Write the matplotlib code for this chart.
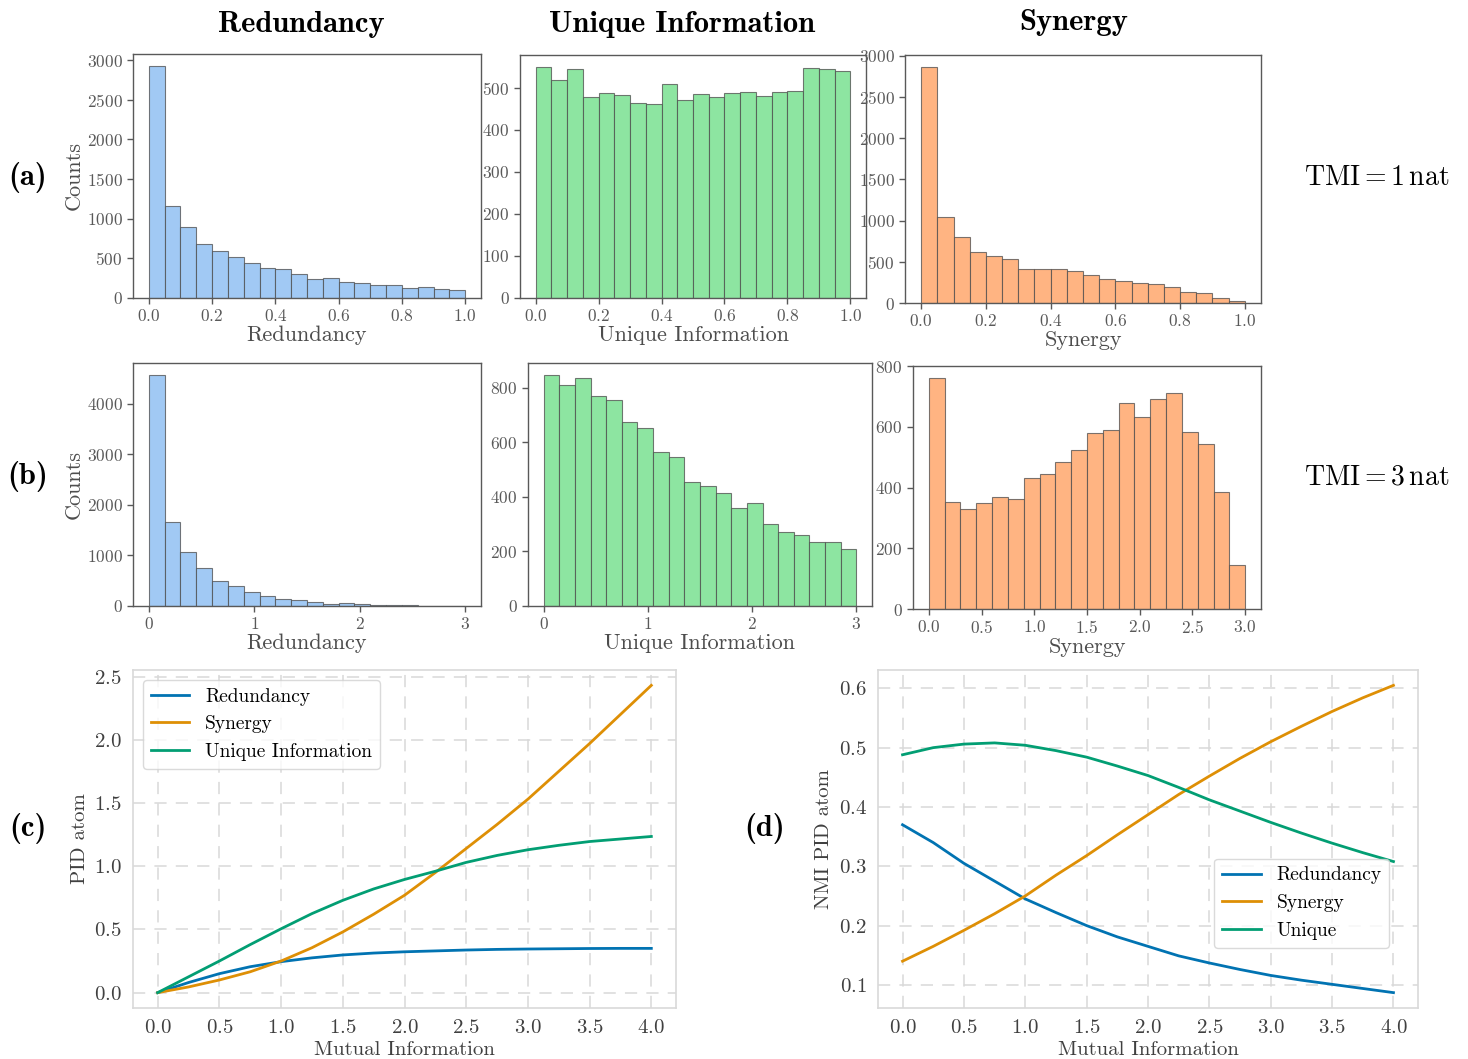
import matplotlib
matplotlib.use("Agg")
import matplotlib.pyplot as plt
import numpy as np

plt.rcParams['font.family'] = 'cmr10'
plt.rcParams['mathtext.fontset'] = 'cm'
plt.rcParams['axes.formatter.use_mathtext'] = True

# histogram counts, 20 bins each
red_a = [2930, 1165, 900, 675, 595, 520, 445, 380, 368, 300,
         240, 257, 203, 190, 170, 160, 130, 135, 110, 100]
uni_a = [551, 518, 545, 478, 488, 483, 464, 462, 509, 472,
         485, 478, 487, 490, 480, 490, 492, 547, 545, 541]
syn_a = [2867, 1043, 801, 619, 574, 534, 416, 416, 412, 384,
         340, 291, 267, 243, 230, 194, 137, 121, 65, 20]
red_b = [4572, 1651, 1059, 750, 493, 395, 270, 197, 145, 125,
         72, 46, 53, 33, 26, 13, 13, 7, 3, 2]
uni_b = [848, 811, 834, 771, 756, 675, 654, 565, 547, 453,
         440, 414, 359, 377, 300, 270, 260, 234, 235, 208]
syn_b = [762, 353, 330, 351, 368, 364, 433, 445, 486, 523,
         579, 591, 678, 633, 693, 711, 584, 543, 387, 144]
range_a = (0.0, 1.0)
range_b = (0.0, 3.0)

# PID atoms vs mutual information
mi = [0.0, 0.25, 0.5, 0.75, 1.0, 1.25, 1.5, 1.75, 2.0,
      2.25, 2.5, 2.75, 3.0, 3.25, 3.5, 3.75, 4.0]
pid_red = [0.0, 0.08, 0.15, 0.205, 0.245, 0.275, 0.298, 0.313, 0.323,
           0.330, 0.337, 0.342, 0.345, 0.347, 0.349, 0.350, 0.350]
pid_syn = [0.0, 0.045, 0.10, 0.165, 0.25, 0.355, 0.48, 0.62, 0.77,
           0.95, 1.14, 1.33, 1.53, 1.75, 1.97, 2.20, 2.43]
pid_uni = [0.0, 0.125, 0.25, 0.38, 0.505, 0.625, 0.73, 0.82, 0.895,
           0.96, 1.03, 1.085, 1.13, 1.165, 1.195, 1.215, 1.235]
nmi_red = [0.370, 0.340, 0.305, 0.275, 0.245, 0.222, 0.200, 0.181, 0.165,
           0.149, 0.137, 0.126, 0.116, 0.108, 0.101, 0.094, 0.087]
nmi_syn = [0.140, 0.165, 0.192, 0.220, 0.250, 0.285, 0.318, 0.353, 0.387,
           0.421, 0.452, 0.482, 0.510, 0.536, 0.561, 0.584, 0.605]
nmi_uni = [0.488, 0.500, 0.506, 0.508, 0.504, 0.495, 0.484, 0.469, 0.453,
           0.433, 0.412, 0.393, 0.374, 0.356, 0.339, 0.323, 0.308]

W, H = 1468, 1059
fig = plt.figure(figsize=(W / 100, H / 100), dpi=100)


def px_axes(x0, y0, x1, y1):
    return fig.add_axes([x0 / W, 1 - y1 / H, (x1 - x0) / W, (y1 - y0) / H])


def px_text(x, y, s, **kw):
    fig.text(x / W, 1 - y / H, s, ha='center', va='center', **kw)


def draw_hist(ax, counts, rng, color, xlabel, ylabel=None):
    edges = np.linspace(rng[0], rng[1], len(counts) + 1)
    ax.hist(edges[:-1], bins=edges, weights=counts, color=color,
            edgecolor=(0.3, 0.3, 0.3, 0.75), linewidth=0.8)
    for s in ax.spines.values():
        s.set_color('0.35')
        s.set_linewidth(1.0)
    ax.tick_params(direction='out', length=4, width=1, colors='0.35',
                   labelsize=12.5)
    ax.set_xlabel(xlabel, fontsize=16, color='0.3', labelpad=1)
    if ylabel:
        ax.set_ylabel(ylabel, fontsize=16, color='0.3', labelpad=2)


blue, orange, green = '#a1c9f4', '#ffb482', '#8de5a1'

ax = px_axes(133, 54, 481, 298)
draw_hist(ax, red_a, range_a, blue, 'Redundancy', 'Counts')
ax = px_axes(520, 55, 866, 298)
draw_hist(ax, uni_a, range_a, green, 'Unique Information')
ax = px_axes(905, 55, 1261, 303)
draw_hist(ax, syn_a, range_a, orange, 'Synergy')

ax = px_axes(133, 363, 481, 606)
draw_hist(ax, red_b, range_b, blue, 'Redundancy', 'Counts')
ax.set_xticks([0, 1, 2, 3])
ax = px_axes(528, 363, 872, 606)
draw_hist(ax, uni_b, range_b, green, 'Unique Information')
ax.set_xticks([0, 1, 2, 3])
ax = px_axes(913, 366, 1261, 609)
draw_hist(ax, syn_b, range_b, orange, 'Synergy')
ax.set_xticks([0.0, 0.5, 1.0, 1.5, 2.0, 2.5, 3.0])
ax.set_ylim(0, 801)

line_cols = ['#0173b2', '#de8f05', '#029e73']


def style_lines(ax):
    ax.grid(True, linestyle=(0, (8, 6)), color='0.85', linewidth=1.1)
    ax.set_axisbelow(True)
    for s in ax.spines.values():
        s.set_color('0.85')
        s.set_linewidth(1.2)
    ax.tick_params(length=0, labelsize=15, colors='0.25', pad=8)


ax = px_axes(133, 670, 676, 1008)
ax.plot(mi, pid_red, color=line_cols[0], lw=2, label='Redundancy')
ax.plot(mi, pid_syn, color=line_cols[1], lw=2, label='Synergy')
ax.plot(mi, pid_uni, color=line_cols[2], lw=2, label='Unique Information')
style_lines(ax)
ax.set_xticks([0.0, 0.5, 1.0, 1.5, 2.0, 2.5, 3.0, 3.5, 4.0])
ax.set_yticks([0.0, 0.5, 1.0, 1.5, 2.0, 2.5])
ax.set_xlabel('Mutual Information', fontsize=15, color='0.25', labelpad=3)
ax.set_ylabel('PID atom', fontsize=15, color='0.25')
leg = ax.legend(loc='upper left', fontsize=14, frameon=True)
leg.get_frame().set_edgecolor('0.82')

ax = px_axes(878, 670, 1418, 1008)
ax.plot(mi, nmi_red, color=line_cols[0], lw=2, label='Redundancy')
ax.plot(mi, nmi_syn, color=line_cols[1], lw=2, label='Synergy')
ax.plot(mi, nmi_uni, color=line_cols[2], lw=2, label='Unique')
style_lines(ax)
ax.set_xticks([0.0, 0.5, 1.0, 1.5, 2.0, 2.5, 3.0, 3.5, 4.0])
ax.set_yticks([0.1, 0.2, 0.3, 0.4, 0.5, 0.6])
ax.set_xlabel('Mutual Information', fontsize=15, color='0.25', labelpad=3)
ax.set_ylabel('NMI PID atom', fontsize=15, color='0.25')
leg = ax.legend(loc='lower right', bbox_to_anchor=(0.965, 0.15),
                fontsize=14, frameon=True)
leg.get_frame().set_edgecolor('0.82')

# column titles, row labels and annotations
px_text(301, 25, 'Redundancy', fontsize=22, family='cmb10')
px_text(682, 25, 'Unique Information', fontsize=22, family='cmb10')
px_text(1074, 22, 'Synergy', fontsize=22, family='cmb10')
px_text(28, 178, '(a)', fontsize=22, family='cmb10')
px_text(28, 476, '(b)', fontsize=22, family='cmb10')
px_text(28, 828, '(c)', fontsize=22, family='cmb10')
px_text(765, 828, '(d)', fontsize=22, family='cmb10')
px_text(1377, 178, r'$\mathrm{TMI} = 1\,\mathrm{nat}$', fontsize=20)
px_text(1377, 477, r'$\mathrm{TMI} = 3\,\mathrm{nat}$', fontsize=20)

fig.savefig('out.png', dpi=100)
